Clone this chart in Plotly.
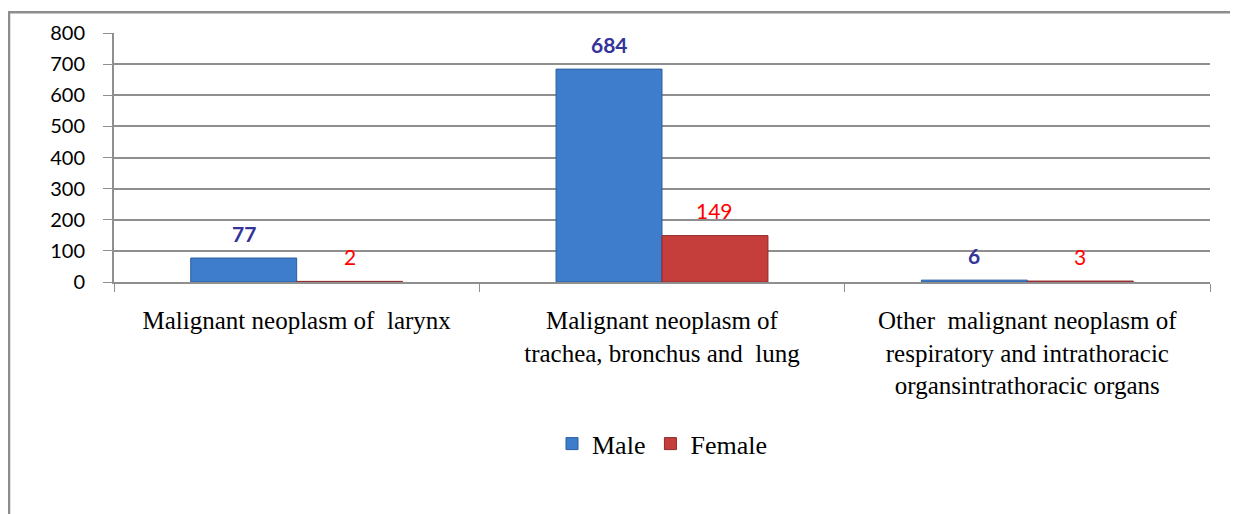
import plotly.graph_objects as go

categories = [
    "Malignant neoplasm of  larynx",
    "Malignant neoplasm of<br>trachea, bronchus and  lung",
    "Other  malignant neoplasm of<br>respiratory and intrathoracic<br>organsintrathoracic organs",
]
male = [77, 684, 6]
female = [2, 149, 3]
y_ticks = [0, 100, 200, 300, 400, 500, 600, 700, 800]

# the page body adds an 8px offset, so the figure is 8px smaller to avoid scrollbars
W, H = 1230, 506
L, R, T, B = 106, 28, 23, 232
pw, ph = W - L - R, H - T - B
bargap = 0.42
grid = "#8f8f8f"

fig = go.Figure()
fig.add_trace(go.Bar(
    x=categories, y=male, name="Male",
    marker=dict(color="#3e7dcc", line=dict(color="#2b5e9e", width=1)),
))
fig.add_trace(go.Bar(
    x=categories, y=female, name="Female",
    marker=dict(color="#c63e3c", line=dict(color="#8e2b2a", width=1)),
))

# data labels above bars
off = (1 - bargap) / 4
for i in range(len(categories)):
    fig.add_annotation(x=i - off, y=male[i], yshift=25, text=f"<b>{male[i]}</b>",
                       showarrow=False, font=dict(family="Lato", size=21, color="#333399"))
    fig.add_annotation(x=i + off, y=female[i], yshift=25, text=str(female[i]),
                       showarrow=False, font=dict(family="Lato", size=21, color="#ff0000"))

# outer chart frame (left and top visible)
fig.add_shape(type="rect", xref="paper", yref="paper",
              x0=(1 - L) / pw, x1=(W + 10 - L) / pw,
              y0=(T + ph - (H + 10)) / ph, y1=(T + ph - 2) / ph,
              line=dict(color="#8d8d8d", width=2.5), fillcolor="rgba(0,0,0,0)", layer="below")

fig.update_layout(
    width=W, height=H,
    margin=dict(l=L, r=R, t=T, b=B),
    paper_bgcolor="white", plot_bgcolor="white",
    barmode="group", bargap=bargap, bargroupgap=0,
    showlegend=True,
    legend=dict(orientation="h", x=0.5, xanchor="center", y=(ph - (437 - T)) / ph, yanchor="middle",
                font=dict(family="Liberation Serif", size=26, color="black"),
                itemwidth=30, traceorder="normal"),
    xaxis=dict(
        type="category", tickson="boundaries", ticks="outside", ticklen=8, tickcolor=grid,
        showline=True, linecolor=grid, linewidth=2, showgrid=False,
        tickfont=dict(family="Liberation Serif", size=25, color="black"),
        ticklabelstandoff=15,
        range=[-0.5, 2.5],
    ),
    yaxis=dict(
        range=[0, 800], tickvals=y_ticks, ticks="outside", ticklen=9, tickcolor=grid,
        showline=True, linecolor=grid, linewidth=2,
        showgrid=True, gridcolor=grid, gridwidth=2, zeroline=False,
        tickfont=dict(family="Lato", size=20, color="black"),
        ticklabelstandoff=14,
    ),
)

fig.write_html("out.html")
